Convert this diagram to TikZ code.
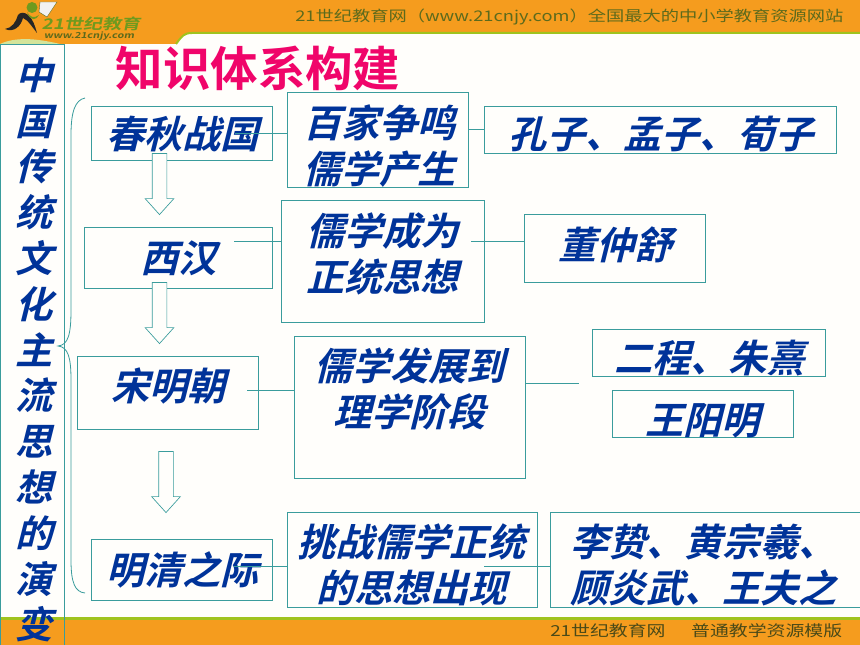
\documentclass[tikz,border=0pt]{standalone}
\usepackage{fontspec}
\setmainfont{Noto Sans CJK SC}
\newfontfamily\boxfont[UprightFont=* Bold,FakeSlant=0.25]{Noto Sans CJK SC}
\newfontfamily\titlefont[UprightFont=* Bold]{Noto Sans CJK SC}
\newfontfamily\sitefont[FakeStretch=1.245]{Noto Sans CJK SC}
\newfontfamily\logofont[UprightFont=* Bold,FakeStretch=1.3,FakeSlant=0.2]{Noto Sans CJK SC}
\usetikzlibrary{shapes.arrows}
\definecolor{bandorange}{HTML}{F59C1E}
\definecolor{bandgreen}{HTML}{A0C31E}
\definecolor{boxteal}{HTML}{3A9C9C}
\definecolor{textblue}{HTML}{003399}
\definecolor{titlepink}{HTML}{F0056A}
\definecolor{siteolive}{HTML}{5C6A1C}
\definecolor{sitedark}{HTML}{4A4A18}
\definecolor{logogreen}{HTML}{6F9A1E}
\definecolor{paperwhite}{HTML}{FFFEFB}
\tikzset{
  box/.style={rectangle, draw=boxteal, line width=0.6pt, inner sep=0pt},
  boxtext/.style={inner sep=0pt, xshift=-1.9pt, align=center, text=textblue, font=\boxfont\fontsize{28.6}{35}\selectfont},
  link/.style={draw=boxteal, line width=0.6pt},
  downarrow/.style={single arrow, draw=boxteal, fill=paperwhite, line width=0.5pt, inner sep=5.25pt,
    shape border rotate=270, minimum height=45.75pt, minimum width=21pt,
    single arrow head extend=5.25pt, single arrow tip angle=84},
  sitetext/.style={inner sep=0pt, text=siteolive, font=\sitefont\fontsize{11}{13}\selectfont}
}
\begin{document}
\begin{tikzpicture}[x=0.75pt, y=-0.75pt]
  \useasboundingbox (0,0) rectangle (860,645);
  \fill[paperwhite] (0,0) rectangle (860,645);
  \fill[bandorange] (0,0) -- (860,0) -- (860,33) -- (192,33) .. controls (184,33) and (182,36) .. (176,44) -- (0,44) -- cycle;
  \draw[bandgreen, line width=1.5pt] (860,33) -- (192,33) .. controls (184,33) and (182,36) .. (176,44);
  \fill[bandgreen!45!white] (0,44) .. controls (15,37) and (35,38) .. (60,44) -- cycle;
  \fill[bandorange] (0,618) rectangle (860,645);
  \fill[bandgreen] (0,617) rectangle (860,619.5);
  \fill[black!85] (5,29) .. controls (12,28) and (16,22) .. (18,15) .. controls (20,12) and (25,12) .. (28,15)
    .. controls (33,19) and (35,26) .. (37,33) .. controls (33,28) and (28,20) .. (23,18) .. controls (21,26) and (14,33) .. (5,29) -- cycle;
  \fill[logogreen] (27,12) .. controls (30,17) and (34,19) .. (39,15) .. controls (37,20) and (30,22) .. (27,12) -- cycle;
  \fill[logogreen] (32,7.5) circle (5.5);
  \fill[black!5, draw=siteolive, line width=0.3pt] (40,2) -- (57,2) -- (47,17) -- (39,12) -- cycle;
  \node[inner sep=0pt, text=logogreen, font=\logofont\fontsize{11}{13}\selectfont] (logoname) at (91,24) {21世纪教育};
  \node[inner sep=0pt, text=siteolive, font=\logofont\fontsize{6.2}{7}\selectfont] (logourl) at (89,36) {www.21cnjy.com};
  \node[sitetext, anchor=west] (topsite) at (295,17) {21世纪教育网（www.21cnjy.com）全国最大的中小学教育资源网站};
  \node[sitetext, text=sitedark, anchor=west, font=\sitefont\fontsize{11.37}{13}\selectfont] (bottomsite) at (550,631) {21世纪教育网\hspace{19.25pt}普通教学资源模版};
  \node[inner sep=0pt, text=titlepink, font=\titlefont\fontsize{35.6}{40}\selectfont] (title) at (258,68) {知识体系构建};

  \node[box, minimum width=48pt, minimum height=450.75pt] (column) at (32,344.5) {};
  \node[boxtext, font=\boxfont\fontsize{28}{34.35}\selectfont] (columntext) at (37,350)
    {中\\国\\传\\统\\文\\化\\主\\流\\思\\想\\的\\演\\变};
  \draw[boxteal, line width=0.6pt] (85,98) .. controls (75,100) and (71,112) .. (71,135) -- (71,310)
    .. controls (71,335) and (68,345) .. (58,346) .. controls (68,347) and (71,357) .. (71,380) -- (71,560)
    .. controls (71,583) and (75,592) .. (85,593);

  \node[box, minimum width=135.75pt, minimum height=40.5pt] (chunqiu) at (181.5,133) {};
  \node[box, minimum width=135.75pt, minimum height=71.25pt] (baijia) at (377.5,139.5) {};
  \node[box, minimum width=264pt, minimum height=35.25pt] (kongzi) at (660,129.5) {};
  \node[box, minimum width=141pt, minimum height=45.75pt] (xihan) at (178,257.5) {};
  \node[box, minimum width=152.25pt, minimum height=91.5pt] (zhengtong) at (382.5,261) {};
  \node[box, minimum width=135.75pt, minimum height=51pt] (dong) at (614.5,248) {};
  \node[box, minimum width=135.75pt, minimum height=54.75pt] (songming) at (167.5,392.5) {};
  \node[box, minimum width=173.25pt, minimum height=106.5pt] (lixue) at (409.5,407) {};
  \node[box, minimum width=174.75pt, minimum height=35.25pt] (zhuxi) at (708.5,352.5) {};
  \node[box, minimum width=135.75pt, minimum height=35.25pt] (wang) at (702.5,413.5) {};
  \node[box, minimum width=135.75pt, minimum height=45.75pt] (mingqing) at (181.5,569.5) {};
  \node[box, minimum width=187.5pt, minimum height=71.25pt] (tiaozhan) at (412,559.5) {};
  \node[box, minimum width=232.5pt, minimum height=71.25pt] (lizhi) at (705,559.5) {};

  \node[boxtext] (chunqiutext) at (185,134) {春秋战国};
  \node[boxtext] (baijiatext) at (382,146) {百家争鸣\\儒学产生};
  \node[boxtext] (kongzitext) at (664,134) {孔子、孟子、荀子};
  \node[boxtext] (xihantext) at (181,258) {西汉};
  \node[boxtext] (zhengtongtext) at (385,254) {儒学成为\\正统思想};
  \node[boxtext] (dongtext) at (618,245) {董仲舒};
  \node[boxtext] (songmingtext) at (171,386) {宋明朝};
  \node[boxtext] (lixuetext) at (412,389) {儒学发展到\\理学阶段};
  \node[boxtext] (zhuxitext) at (712,358) {二程、朱熹};
  \node[boxtext] (wangtext) at (705,421) {王阳明};
  \node[boxtext] (mingqingtext) at (185,570) {明清之际};
  \node[boxtext] (tiaozhantext) at (414,565) {挑战儒学正统\\的思想出现};
  \node[boxtext] (lizhitext) at (706,565) {李贽、黄宗羲、\\顾炎武、王夫之};

  \node[downarrow] (arrowone) at (159.5,180) {};
  \node[downarrow] (arrowtwo) at (159.5,309) {};
  \node[downarrow] (arrowthree) at (166,478) {};

  \coordinate (chunqiuend) at (235,133);
  \coordinate (xihanend) at (234,241);
  \coordinate (songmingend) at (247,390);
  \coordinate (mingqingend) at (234,566);
  \coordinate (zhengtongend) at (471,241);
  \coordinate (lixueend) at (579,383);
  \coordinate (tiaozhanend) at (484,566);
  \draw[link] (chunqiuend) -- (chunqiuend -| baijia.west);
  \draw[link] (baijia.east |- kongzi.west) -- (kongzi.west);
  \draw[link] (xihanend) -- (xihanend -| zhengtong.west);
  \draw[link] (zhengtongend) -- (zhengtongend -| dong.west);
  \draw[link] (songmingend) -- (songmingend -| lixue.west);
  \draw[link] (lixueend -| lixue.east) -- (lixueend);
  \draw[link] (mingqingend) -- (mingqingend -| tiaozhan.west);
  \draw[link] (tiaozhanend) -- (tiaozhanend -| lizhi.west);
\end{tikzpicture}
\end{document}
